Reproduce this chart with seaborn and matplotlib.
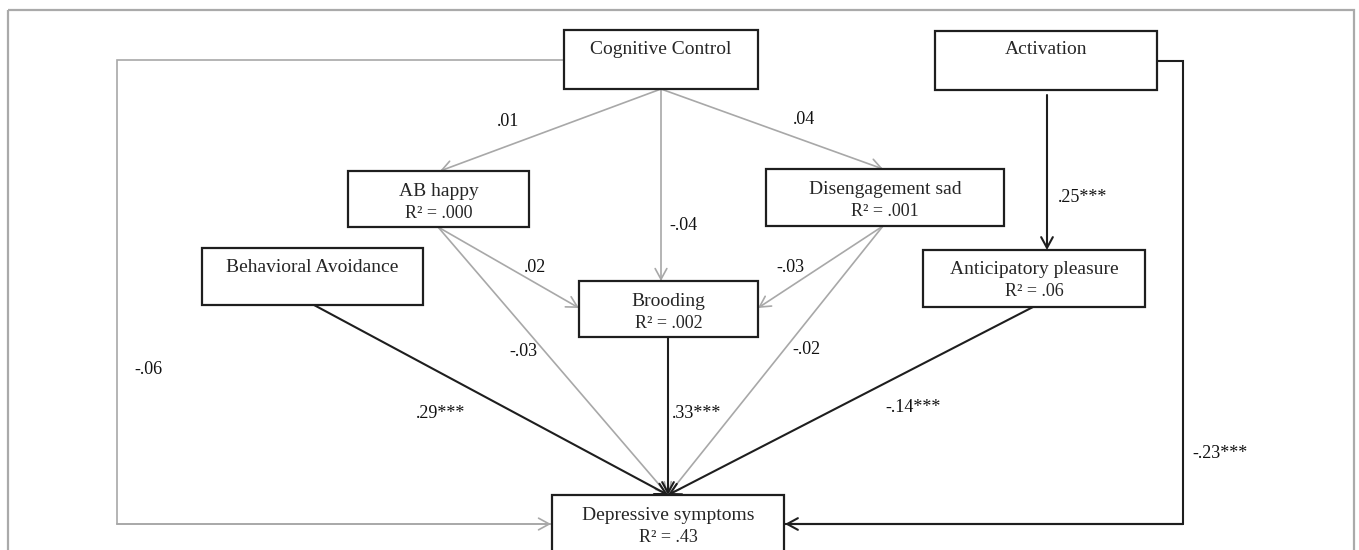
import matplotlib
matplotlib.use("Agg")
import matplotlib.pyplot as plt
import seaborn as sns
import pandas as pd

# nodes of the path model
node_names = ["Cognitive Control", "Activation", "AB happy", "Disengagement sad",
              "Behavioral Avoidance", "Brooding", "Anticipatory pleasure",
              "Depressive symptoms"]
node_r2 = [None, None, ".000", ".001", None, ".002", ".06", ".43"]

# paths: source, target, coefficient, significant (black) or not (gray)
edge_src = ["Cognitive Control", "Cognitive Control", "Cognitive Control", "Cognitive Control",
            "Activation", "Activation", "AB happy", "AB happy",
            "Disengagement sad", "Disengagement sad", "Behavioral Avoidance",
            "Brooding", "Anticipatory pleasure"]
edge_dst = ["AB happy", "Brooding", "Disengagement sad", "Depressive symptoms",
            "Anticipatory pleasure", "Depressive symptoms", "Brooding", "Depressive symptoms",
            "Brooding", "Depressive symptoms", "Depressive symptoms",
            "Depressive symptoms", "Depressive symptoms"]
edge_coef = [".01", "-.04", ".04", "-.06", ".25***", "-.23***", ".02", "-.03",
             "-.03", "-.02", ".29***", ".33***", "-.14***"]
edge_sig = [False, False, False, False, True, True, False, False,
            False, False, True, True, True]

# layout (pixel space of the figure)
box_x0 = [564, 935, 348, 766, 202, 579, 923, 552]
box_y0 = [30, 31, 171, 169, 248, 281, 250, 495]
box_x1 = [758, 1157, 529, 1004, 423, 758, 1145, 784]
box_y1 = [89, 90, 227, 226, 305, 337, 307, 565]

# path geometry: polyline points for each edge, label position
edge_pts = [
    [(661, 89), (440, 171)],
    [(661, 89), (661, 281)],
    [(661, 89), (883, 169)],
    [(564, 60), (117, 60), (117, 524), (551, 524)],
    [(1047, 95), (1047, 250)],
    [(1157, 61), (1183, 61), (1183, 524), (785, 524)],
    [(438, 227), (579, 308)],
    [(438, 227), (668, 495)],
    [(883, 226), (758, 308)],
    [(883, 226), (668, 495)],
    [(314, 305), (668, 495)],
    [(668, 337), (668, 495)],
    [(1033, 307), (668, 495)],
]
label_xy = [(508, 122), (683, 226), (804, 119), (148, 370), (1083, 197), (1220, 453),
            (535, 268), (523, 352), (790, 268), (806, 350), (441, 413), (697, 413),
            (913, 407)]

sns.set_theme(style="white")
plt.rcParams['font.family'] = ['Liberation Serif', 'DejaVu Serif']

W, H = 1359, 550
fig = plt.figure(figsize=(W / 100, H / 100), dpi=100)
ax = fig.add_axes([0, 0, 1, 1])
ax.set_xlim(0, W)
ax.set_ylim(H, 0)
ax.axis("off")

GRAY = "#a8a8a8"
DARK = "#1e1e1e"

# outer frame
ax.add_patch(plt.Rectangle((8, 10), 1346, 560, fill=False, ec="#aaaaaa", lw=1.6))

# paths
for pts, lab, sig, lxy in zip(edge_pts, edge_coef, edge_sig, label_xy):
    col = DARK if sig else GRAY
    lw = 1.5 if sig else 1.2
    df = pd.DataFrame(pts, columns=["x", "y"])
    if len(pts) > 2:
        ax.plot(df.x[:-1], df.y[:-1], color=col, lw=lw, solid_joinstyle="miter")
        ax.plot(df.x[-2:], df.y[-2:], color=col, lw=lw)
    ax.annotate("", xy=pts[-1], xytext=pts[-2],
                arrowprops=dict(arrowstyle="->,head_length=0.55,head_width=0.3",
                                color=col, lw=lw, shrinkA=0, shrinkB=0,
                                mutation_scale=14))
    ax.text(lxy[0], lxy[1], lab, ha="center", va="center", fontsize=13, color="#111111")

# boxes
for name, r2, x0, y0, x1, y1 in zip(node_names, node_r2, box_x0, box_y0, box_x1, box_y1):
    ax.add_patch(plt.Rectangle((x0, y0), x1 - x0, y1 - y0, fc="white", ec=DARK, lw=1.6, zorder=3))
    cx = (x0 + x1) / 2
    if r2 is None:
        ax.text(cx, y0 + 19, name, ha="center", va="center", fontsize=14, zorder=4)
    else:
        ax.text(cx, y0 + 20, name, ha="center", va="center", fontsize=14, zorder=4)
        ax.text(cx, y0 + 42, "R² = " + r2, ha="center", va="center", fontsize=13, zorder=4)

fig.savefig("out.png", dpi=100)
